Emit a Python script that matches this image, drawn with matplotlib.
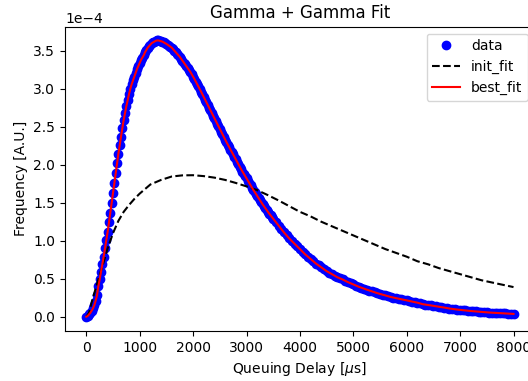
import numpy as np
import matplotlib
matplotlib.use("Agg")
import matplotlib.pyplot as plt

# measured data, y in units of 1e-4
# 0 .. 1475, step 25
rise_y = [0.00, 0.01, 0.03, 0.05, 0.08, 0.11, 0.15, 0.21, 0.28, 0.40,
          0.49, 0.59, 0.69, 0.79, 0.90, 1.01, 1.12, 1.24, 1.37, 1.50,
          1.63, 1.76, 1.89, 2.02, 2.14, 2.26, 2.37, 2.48, 2.59, 2.68,
          2.77, 2.85, 2.93, 3.00, 3.06, 3.11, 3.16, 3.21, 3.26, 3.30,
          3.34, 3.38, 3.41, 3.44, 3.48, 3.51, 3.54, 3.56, 3.58, 3.60,
          3.61, 3.62, 3.63, 3.635, 3.635, 3.63, 3.625, 3.62, 3.61, 3.60]
# 1500 .. 3475, step 25
fall_y = [3.59, 3.578, 3.565, 3.553, 3.54, 3.52, 3.50, 3.48, 3.46, 3.44,
          3.42, 3.395, 3.37, 3.345, 3.32, 3.295, 3.27, 3.245, 3.22, 3.19,
          3.16, 3.128, 3.095, 3.063, 3.03, 2.995, 2.96, 2.925, 2.89, 2.855,
          2.82, 2.785, 2.75, 2.715, 2.68, 2.645, 2.61, 2.575, 2.54, 2.505,
          2.47, 2.435, 2.40, 2.365, 2.33, 2.297, 2.265, 2.232, 2.20, 2.167,
          2.135, 2.102, 2.07, 2.037, 2.005, 1.972, 1.94, 1.91, 1.88, 1.85,
          1.82, 1.79, 1.76, 1.73, 1.70, 1.672, 1.645, 1.617, 1.59, 1.562,
          1.535, 1.507, 1.48, 1.455, 1.43, 1.405, 1.38, 1.357, 1.335, 1.312]
# 3500 .. 8000, step 50
tail_y = [1.29, 1.245, 1.20, 1.155, 1.11, 1.07, 1.03, 0.995, 0.96, 0.925,
          0.89, 0.855, 0.82, 0.79, 0.76, 0.73, 0.70, 0.675, 0.65, 0.625,
          0.60, 0.58, 0.56, 0.54, 0.52, 0.505, 0.49, 0.472, 0.455, 0.44,
          0.425, 0.41, 0.395, 0.382, 0.37, 0.357, 0.345, 0.332, 0.32, 0.31,
          0.30, 0.29, 0.28, 0.27, 0.26, 0.252, 0.245, 0.237, 0.23, 0.222,
          0.215, 0.207, 0.20, 0.192, 0.185, 0.175, 0.165, 0.16, 0.155, 0.149,
          0.143, 0.137, 0.132, 0.126, 0.121, 0.114, 0.108, 0.103, 0.098, 0.094,
          0.090, 0.086, 0.082, 0.078, 0.075, 0.072, 0.069, 0.066, 0.063, 0.060,
          0.058, 0.055, 0.053, 0.051, 0.049, 0.047, 0.045, 0.043, 0.041, 0.039,
          0.037]

data_x = list(range(0, 1500, 25)) + list(range(1500, 3500, 25)) + list(range(3500, 8001, 50))
data_y = rise_y + fall_y + tail_y

# initial guess curve
init_x = [0, 50, 100, 150, 200, 250, 300, 400, 500, 600, 700, 800, 900, 1000, 1200,
          1400, 1600, 1800, 2000, 2200, 2400, 2600, 2800, 3000, 3200, 3400, 3600, 3800,
          4000, 4200, 4400, 4600, 4800, 5000, 5200, 5400, 5600, 5800, 6000, 6200, 6400,
          6600, 6800, 7000, 7200, 7400, 7600, 7800, 8000]
init_y = [0.0, 0.05, 0.19, 0.31, 0.43, 0.55, 0.66, 0.90, 1.10, 1.26, 1.38, 1.47, 1.55,
          1.62, 1.74, 1.80, 1.845, 1.86, 1.862, 1.85, 1.83, 1.80, 1.76, 1.715, 1.665,
          1.60, 1.53, 1.455, 1.38, 1.32, 1.25, 1.19, 1.13, 1.07, 1.01, 0.95, 0.89, 0.84,
          0.79, 0.73, 0.69, 0.64, 0.60, 0.56, 0.52, 0.48, 0.45, 0.42, 0.39]

# the fitted curve lies on the data
best_x = data_x
best_y = data_y

scale = 1e-4

fig = plt.figure(figsize=(5.28, 3.81), dpi=100)
ax = fig.add_axes([0.123, 0.1312, 0.890, 0.7987])

ax.plot(data_x, np.array(data_y) * scale, 'bo', label='data')
ax.plot(init_x, np.array(init_y) * scale, 'k--', label='init_fit')
ax.plot(best_x, np.array(best_y) * scale, 'r-', label='best_fit')

ax.set_xlim(-400, 8400)
ax.set_ylim(-0.188e-4, 3.816e-4)
ax.set_xticks(range(0, 8001, 1000))
ax.ticklabel_format(axis='y', style='sci', scilimits=(0, 0))

ax.set_title("Gamma + Gamma Fit")
ax.set_xlabel(r"Queuing Delay [$\mu$s]")
ax.set_ylabel("Frequency [A.U.]")
ax.legend(loc='upper right')

fig.savefig("out.png", dpi=100)
